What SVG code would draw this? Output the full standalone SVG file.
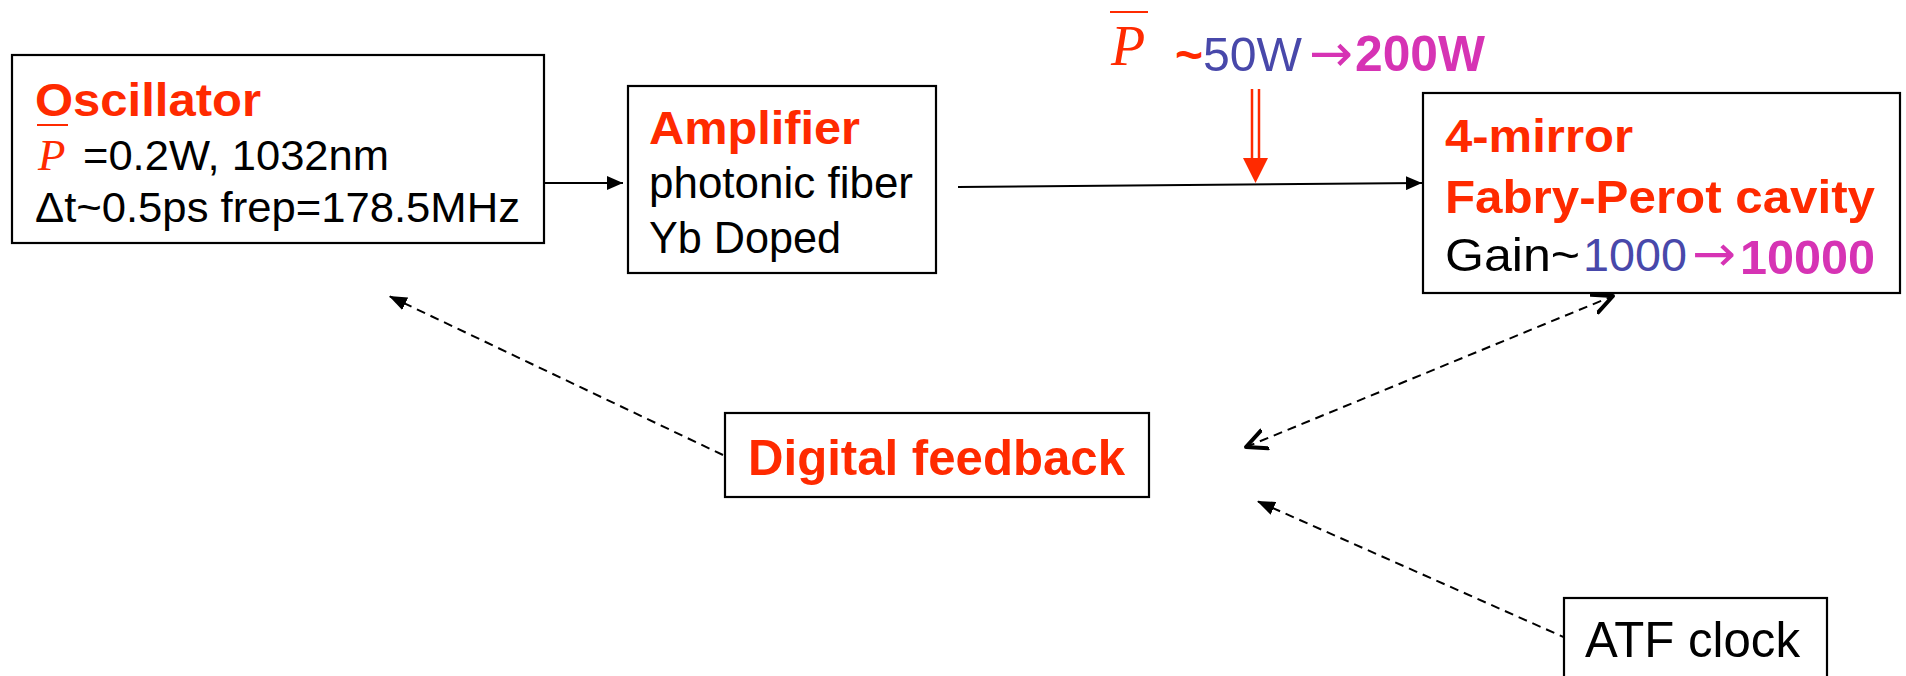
<svg xmlns="http://www.w3.org/2000/svg" width="1906" height="676" viewBox="0 0 1906 676">
<style>
.box{fill:#fff;stroke:#000;stroke-width:2.2}
.t{font-family:"Liberation Sans",Arial,sans-serif;fill:#000}
.arr{font-family:"DejaVu Sans",sans-serif}
.b{font-weight:bold}
.red{fill:#ff2a00}
.blue{fill:#4848aa}
.mag{fill:#d633b4}
.math{font-family:"Liberation Serif","Times New Roman",serif;font-style:italic;fill:#ff2a00}
.bar{stroke:#ff2a00;stroke-width:2}
.solid{fill:none;stroke:#000;stroke-width:2}
.dash{fill:none;stroke:#000;stroke-width:2;stroke-dasharray:9 6}
</style>
<defs>
<marker id="tri" viewBox="0 0 16 14" refX="16" refY="7" markerWidth="16" markerHeight="14" markerUnits="userSpaceOnUse" orient="auto"><path d="M0,0 L16,7 L0,14 z" fill="#000"/></marker>
<marker id="tri2" viewBox="0 0 18 14" refX="18" refY="7" markerWidth="18" markerHeight="14" markerUnits="userSpaceOnUse" orient="auto"><path d="M0,0 L18,7 L0,14 z" fill="#000"/></marker>
<marker id="chev" viewBox="0 0 24 24" refX="21" refY="12" markerWidth="24" markerHeight="24" markerUnits="userSpaceOnUse" orient="auto-start-reverse"><path d="M1,2.5 L21,12 L1,21.5" fill="none" stroke="#000" stroke-width="4" stroke-linecap="round" stroke-linejoin="round"/></marker>
</defs>
<rect width="1906" height="676" fill="#fff"/>

<g id="connectors">
<line class="solid" x1="539" y1="183" x2="623" y2="183" marker-end="url(#tri)"/>
<line class="solid" x1="958" y1="187" x2="1422" y2="183" marker-end="url(#tri)"/>
<line class="dash" x1="723" y1="455" x2="389" y2="296" marker-end="url(#tri2)"/>
<line class="dash" x1="1246" y1="447" x2="1613" y2="296" marker-start="url(#chev)" marker-end="url(#chev)"/>
<line class="dash" x1="1568" y1="639" x2="1257" y2="501" marker-end="url(#tri2)"/>
<g id="pump-arrow">
<line x1="1252" y1="89" x2="1252" y2="160" stroke="#ff2a00" stroke-width="2.5"/>
<line x1="1259" y1="89" x2="1259" y2="160" stroke="#ff2a00" stroke-width="2.5"/>
<polygon points="1243,158 1268,158 1255.5,183" fill="#ff2a00"/>
</g>
</g>

<g id="power-label">
<line class="bar" x1="1110" y1="12" x2="1148" y2="12"/>
<text class="math" x="1111" y="65" font-size="56">P</text>
<text class="t b red" x="1175" y="71" font-size="48">~</text>
<text class="t blue" x="1203" y="71" font-size="48" textLength="99" lengthAdjust="spacingAndGlyphs">50W</text>
<text class="t arr mag" x="1309" y="71" font-size="52" textLength="44" lengthAdjust="spacingAndGlyphs">→</text>
<text class="t b mag" x="1355" y="71" font-size="50" textLength="130" lengthAdjust="spacingAndGlyphs">200W</text>
</g>

<g id="oscillator">
<rect class="box" x="12" y="55" width="532" height="188"/>
<text class="t b red" x="35" y="116" font-size="46" textLength="226" lengthAdjust="spacingAndGlyphs">Oscillator</text>
<line class="bar" x1="37" y1="125" x2="68" y2="125"/>
<text class="math" x="38" y="170" font-size="45">P</text>
<text class="t" x="83" y="170" font-size="43" textLength="306" lengthAdjust="spacingAndGlyphs">=0.2W, 1032nm</text>
<text class="t" x="35" y="222" font-size="43" textLength="485" lengthAdjust="spacingAndGlyphs">Δt~0.5ps frep=178.5MHz</text>
</g>

<g id="amplifier">
<rect class="box" x="628" y="86" width="308" height="187"/>
<text class="t b red" x="649" y="144" font-size="47" textLength="211" lengthAdjust="spacingAndGlyphs">Amplifier</text>
<text class="t" x="649" y="198" font-size="44" textLength="264" lengthAdjust="spacingAndGlyphs">photonic fiber</text>
<text class="t" x="649" y="253" font-size="44" textLength="192" lengthAdjust="spacingAndGlyphs">Yb Doped</text>
</g>

<g id="cavity">
<rect class="box" x="1423" y="93" width="477" height="200"/>
<text class="t b red" x="1445" y="152" font-size="47" textLength="188" lengthAdjust="spacingAndGlyphs">4-mirror</text>
<text class="t b red" x="1445" y="213" font-size="47" textLength="430" lengthAdjust="spacingAndGlyphs">Fabry-Perot cavity</text>
<text class="t" x="1445" y="271" font-size="47" textLength="135" lengthAdjust="spacingAndGlyphs">Gain~</text>
<text class="t blue" x="1583" y="271" font-size="47" textLength="104" lengthAdjust="spacingAndGlyphs">1000</text>
<text class="t arr mag" x="1692" y="271" font-size="50" textLength="44" lengthAdjust="spacingAndGlyphs">→</text>
<text class="t b mag" x="1740" y="274" font-size="48" textLength="135" lengthAdjust="spacingAndGlyphs">10000</text>
</g>

<g id="digital-feedback">
<rect class="box" x="725" y="413" width="424" height="84"/>
<text class="t b red" x="748" y="475" font-size="50" textLength="377" lengthAdjust="spacingAndGlyphs">Digital feedback</text>
</g>

<g id="atf-clock">
<rect class="box" x="1564" y="598" width="263" height="100"/>
<text class="t" x="1585" y="657" font-size="50" textLength="215" lengthAdjust="spacingAndGlyphs">ATF clock</text>
</g>
</svg>
